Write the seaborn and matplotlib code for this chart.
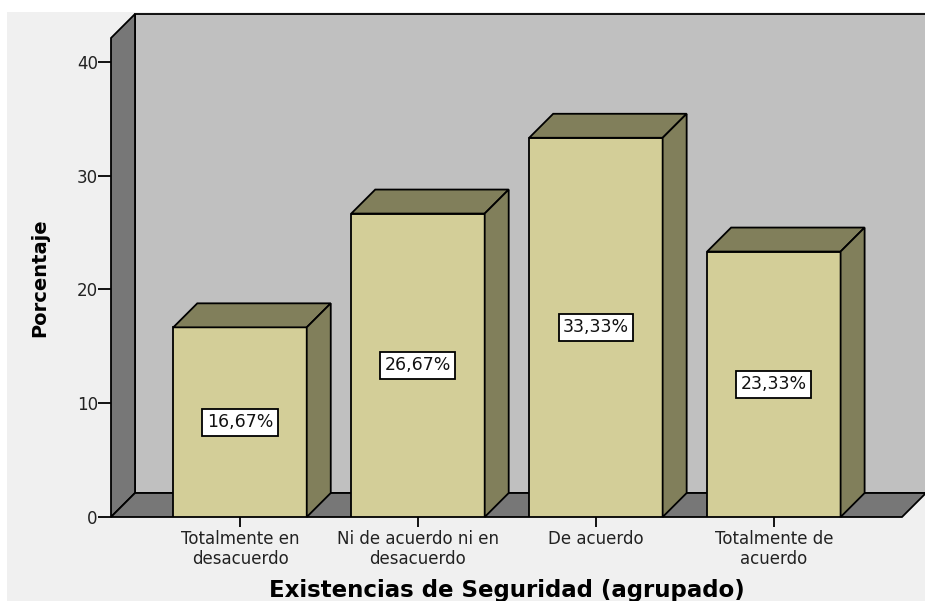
import numpy as np
import matplotlib
matplotlib.use('Agg')
import matplotlib.pyplot as plt
from matplotlib.patches import Polygon, Rectangle
import seaborn as sns

sns.set_style('white')
plt.rcParams['font.family'] = ['DejaVu Sans']

categories = ['Totalmente en\ndesacuerdo', 'Ni de acuerdo ni en\ndesacuerdo',
              'De acuerdo', 'Totalmente de\nacuerdo']
percentages = [16.67, 26.67, 33.33, 23.33]
y_ticks = [0, 10, 20, 30, 40]

front_col = '#D3CE98'
shade_col = '#817F5B'
wall_col = '#C0C0C0'
side_col = '#777777'

W, H = 925, 601
fig = plt.figure(figsize=(W / 100, H / 100), dpi=100, facecolor='white')
# light gray panel (thin white strip on top and left like the original)
fig.patches.append(Rectangle((7 / W, 0), 1, (H - 12) / H, transform=fig.transFigure,
                             facecolor='#F0F0F0', edgecolor='none', zorder=-10))

left, right, top, bottom = 111, 902, 38, 517
ax = fig.add_axes([left / W, (H - bottom) / H, (right - left) / W, (bottom - top) / H])
ax.set_facecolor('none')

sns.barplot(x=categories, y=percentages, width=0.75, color=front_col, saturation=1,
            edgecolor='black', linewidth=1.3, ax=ax, zorder=2)
bars = list(ax.patches)

xmin, xmax = -0.725, 3.72
ymin, ymax = 0, 42.1
ax.set_xlim(xmin, xmax)
ax.set_ylim(ymin, ymax)

# depth of the 3D effect (24 px up and right), in data units
depth_px = 24
ddx = depth_px / (right - left) * (xmax - xmin)
ddy = depth_px / (bottom - top) * (ymax - ymin)

lw = 1.3
# back wall, left wall, floor
ax.add_patch(Polygon([(xmin + ddx, ddy), (xmax + ddx, ddy), (xmax + ddx, ymax + ddy),
                      (xmin + ddx, ymax + ddy)], closed=True, facecolor=wall_col,
                     edgecolor='black', lw=lw, clip_on=False, zorder=0.5))
ax.add_patch(Polygon([(xmin, 0), (xmin, ymax), (xmin + ddx, ymax + ddy), (xmin + ddx, ddy)],
                     closed=True, facecolor=side_col, edgecolor='black', lw=lw,
                     clip_on=False, zorder=0.6))
ax.add_patch(Polygon([(xmin, 0), (xmax, 0), (xmax + ddx, ddy), (xmin + ddx, ddy)],
                     closed=True, facecolor=side_col, edgecolor='black', lw=lw,
                     clip_on=False, zorder=0.6))

for bar, val in zip(bars, percentages):
    x0 = bar.get_x()
    x1 = x0 + bar.get_width()
    h = bar.get_height()
    ax.add_patch(Polygon([(x0, h), (x1, h), (x1 + ddx, h + ddy), (x0 + ddx, h + ddy)],
                         closed=True, facecolor=shade_col, edgecolor='black', lw=lw,
                         clip_on=False, zorder=2))
    ax.add_patch(Polygon([(x1, 0), (x1 + ddx, ddy), (x1 + ddx, h + ddy), (x1, h)],
                         closed=True, facecolor=shade_col, edgecolor='black', lw=lw,
                         clip_on=False, zorder=2))
    ax.text(x0 + bar.get_width() / 2, h / 2, f'{val:.2f}%'.replace('.', ','),
            ha='center', va='center', fontsize=12.5, color='#111111', zorder=3,
            bbox=dict(boxstyle='square,pad=0.25', facecolor='white', edgecolor='black', lw=1.3))

for s in ['top', 'right', 'left', 'bottom']:
    ax.spines[s].set_visible(False)

ax.set_yticks(y_ticks)
ax.tick_params(axis='y', direction='out', length=9.5, width=1.3, color='black',
               labelsize=12, labelcolor='#222222', pad=0, left=True)
ax.tick_params(axis='x', direction='out', length=7, width=1.3, color='black',
               labelsize=12, labelcolor='#222222', pad=2, bottom=True)
ax.set_xlabel('Existencias de Seguridad (agrupado)', fontsize=16.5, fontweight='bold',
              labelpad=8, color='black')
ax.set_ylabel('Porcentaje', fontsize=14, fontweight='bold', labelpad=20, color='black')

fig.savefig('out.png', dpi=100, facecolor=fig.get_facecolor())
